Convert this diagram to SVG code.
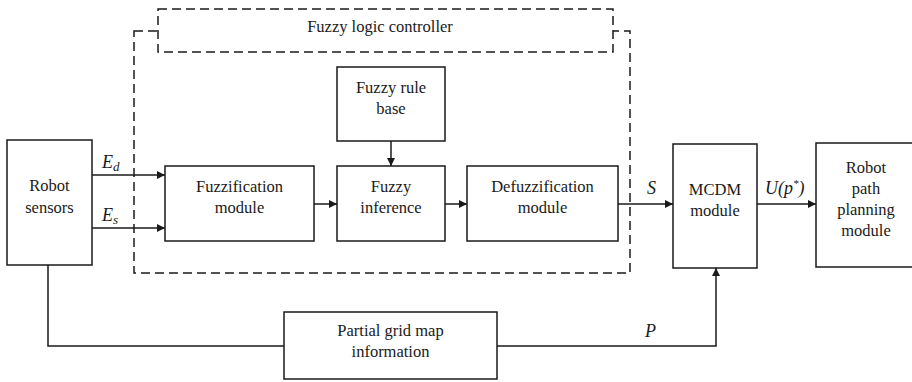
<svg xmlns="http://www.w3.org/2000/svg" width="912" height="382" viewBox="0 0 912 382" font-family="Liberation Serif, Times New Roman, DejaVu Serif, Noto Serif, serif">
<style>
.box{fill:#fff;stroke:#1a1a1a;stroke-width:1.5}
.dash{fill:none;stroke:#1a1a1a;stroke-width:1.5;stroke-dasharray:9 5}
.dashw{fill:#fff;stroke:#1a1a1a;stroke-width:1.5;stroke-dasharray:9 5}
.ln{fill:none;stroke:#1a1a1a;stroke-width:1.5}
.t{font-size:16.5px;fill:#1a1a1a;text-anchor:middle}
.m{font-style:italic;font-size:18px;fill:#1a1a1a}
.sub{font-style:italic;font-size:13px}
</style>
<defs>
<marker id="ah" viewBox="0 0 10 10" refX="10" refY="5" markerWidth="9" markerHeight="8" markerUnits="userSpaceOnUse" orient="auto">
<path d="M0,0 L10,5 L0,10 z" fill="#1a1a1a"/>
</marker>
</defs>
<g id="controller">
<rect class="dash" x="134" y="31" width="496" height="242"/>
<rect class="dashw" x="158" y="9" width="455" height="43"/>
<text class="t" x="380" y="32" font-family="Liberation Serif, serif">Fuzzy logic controller</text>
</g>
<g id="connectors">
<path class="ln" d="M92,175 H165" marker-end="url(#ah)"/>
<path class="ln" d="M92,228 H165" marker-end="url(#ah)"/>
<path class="ln" d="M391,141 V166" marker-end="url(#ah)"/>
<path class="ln" d="M314,204 H337" marker-end="url(#ah)"/>
<path class="ln" d="M445,204 H467" marker-end="url(#ah)"/>
<path class="ln" d="M618,204 H673" marker-end="url(#ah)"/>
<path class="ln" d="M757,204 H816" marker-end="url(#ah)"/>
<path class="ln" d="M48,265 V346 H284"/>
<path class="ln" d="M497,346 H716 V268" marker-end="url(#ah)"/>
<text class="m" x="102" y="168">E<tspan class="sub" dy="3">d</tspan></text>
<text class="m" x="102" y="221">E<tspan class="sub" dy="3">s</tspan></text>
<text class="m" x="647" y="194">S</text>
<text class="m" x="765" y="194">U(p<tspan font-size="11" dy="-7">*</tspan><tspan dy="7">)</tspan></text>
<text class="m" x="645" y="337">P</text>
</g>
<g id="robot-sensors">
<rect class="box" x="7" y="140" width="85" height="125"/>
<text class="t" x="49.5" y="191">Robot</text>
<text class="t" x="49.5" y="213">sensors</text>
</g>
<g id="fuzzification">
<rect class="box" x="165" y="166" width="149" height="75"/>
<text class="t" x="239.5" y="192">Fuzzification</text>
<text class="t" x="239.5" y="213">module</text>
</g>
<g id="rule-base">
<rect class="box" x="337" y="67" width="108" height="74"/>
<text class="t" x="391" y="93">Fuzzy rule</text>
<text class="t" x="391" y="114">base</text>
</g>
<g id="inference">
<rect class="box" x="337" y="166" width="108" height="75"/>
<text class="t" x="391" y="192">Fuzzy</text>
<text class="t" x="391" y="213">inference</text>
</g>
<g id="defuzzification">
<rect class="box" x="467" y="166" width="151" height="75"/>
<text class="t" x="542.5" y="192">Defuzzification</text>
<text class="t" x="542.5" y="213">module</text>
</g>
<g id="mcdm">
<rect class="box" x="673" y="144" width="84" height="124"/>
<text class="t" x="715" y="195">MCDM</text>
<text class="t" x="715" y="216">module</text>
</g>
<g id="path-planning">
<rect class="box" x="816" y="143" width="100" height="124"/>
<text class="t" x="866" y="173">Robot</text>
<text class="t" x="866" y="194">path</text>
<text class="t" x="866" y="215">planning</text>
<text class="t" x="866" y="236">module</text>
</g>
<g id="grid-map">
<rect class="box" x="284" y="312" width="213" height="67"/>
<text class="t" x="390.5" y="336">Partial grid map</text>
<text class="t" x="390.5" y="357">information</text>
</g>
</svg>
